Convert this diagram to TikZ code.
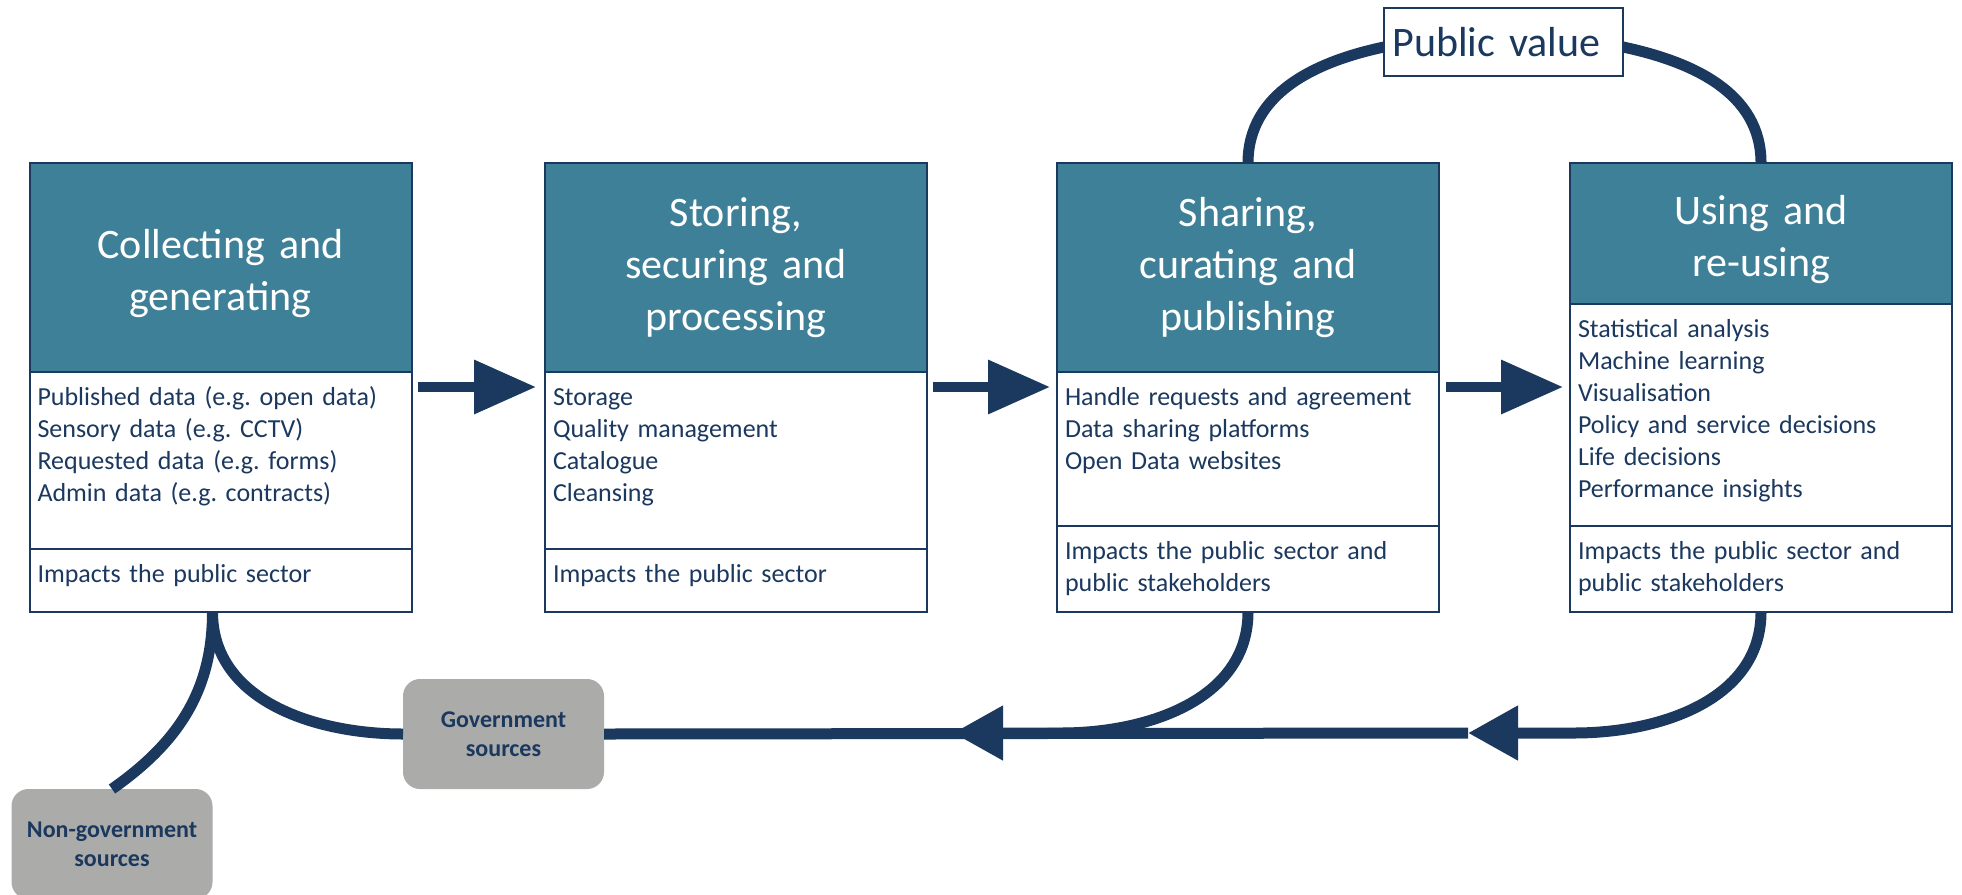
\documentclass[tikz,border=0pt]{standalone}
\usepackage{fontspec}
\setmainfont{Carlito}
\usepackage{xcolor}
\usepackage{tikz}
\usetikzlibrary{positioning,arrows.meta,calc}
\frenchspacing

\definecolor{navy}{RGB}{27,56,94}
\definecolor{headteal}{RGB}{62,128,151}
\definecolor{srcgray}{RGB}{171,171,170}

\begin{document}
\begin{tikzpicture}[x=0.5pt, y=-0.5pt,
    head/.style={draw=navy, line width=1pt, fill=headteal, text=white, text width=183pt, align=center, minimum width=191pt, minimum height=#1, inner sep=4pt, outer sep=0pt, font=\fontsize{21}{26}\selectfont},
    part/.style={draw=navy, line width=1pt, fill=white, text=navy, text width=183pt, align=left, inner sep=4pt, outer sep=0pt, text height=12.5pt, text depth=#1, font=\fontsize{13}{16}\selectfont},
    source/.style={fill=srcgray, rounded corners=8.5pt, text=navy, minimum width=100.5pt, minimum height=55pt, outer sep=0pt, align=center, font=\bfseries\fontsize{12}{14.5}\selectfont},
    loopline/.style={draw=navy, line width=5.5pt},
    fatarrow/.style={draw=navy, line width=5pt, -{Triangle[length=31pt,width=26pt]}},
    backhead/.style={-{Triangle[length=25pt,width=26pt]}}]
  \useasboundingbox (0,0) rectangle (1962,894);
  \clip (0,0) rectangle (1962,894);

  % the four stages
  \node[head=104.5pt, text depth=24pt, anchor=north] (h1) at (220.5,163) {Collecting and\\generating};
  \node[part=68pt, below=0pt of h1] (b1) {Published data (e.g. open data)\\Sensory data (e.g. CCTV)\\Requested data (e.g. forms)\\Admin data (e.g. contracts)};
  \node[part=11pt, below=0pt of b1] (f1) {Impacts the public sector};

  \node[head=104.5pt, anchor=north] (h2) at (736,163) {Storing,\\securing and\\processing};
  \node[part=68pt, below=0pt of h2] (b2) {Storage\\Quality management\\Catalogue\\Cleansing};
  \node[part=11pt, below=0pt of b2] (f2) {Impacts the public sector};

  \node[head=104.5pt, anchor=north] (h3) at (1248,163) {Sharing,\\curating and\\publishing};
  \node[part=56.5pt, below=0pt of h3] (b3) {Handle requests and agreement\\Data sharing platforms\\Open Data websites};
  \node[part=22.5pt, below=0pt of b3] (f3) {Impacts the public sector and\\public stakeholders};

  \node[head=70.5pt, text depth=24pt, anchor=north] (h4) at (1761,163) {Using and\\re-using};
  \node[part=90.5pt, below=0pt of h4] (b4) {Statistical analysis\\Machine learning\\Visualisation\\Policy and service decisions\\Life decisions\\Performance insights};
  \node[part=22.5pt, below=0pt of b4] (f4) {Impacts the public sector and\\public stakeholders};

  % value and sources
  \node[draw=navy, line width=1pt, fill=white, text=navy, text width=111pt, align=left, inner xsep=4.25pt, minimum height=34pt, outer sep=0pt, font=\fontsize{21}{24}\selectfont] (pv) at (1503.5,42) {Public value};
  \node[source] (gov) at (503.5,734) {Government\\sources};
  \node[source] (ngov) at (112,844) {Non-government\\sources};

  % forward arrows
  \draw[fatarrow] ($(h1.south east)+(6,15)$) -- ($(h2.south west)+(-9,15)$);
  \draw[fatarrow] ($(h2.south east)+(6,15)$) -- ($(h3.south west)+(-7,15)$);
  \draw[fatarrow] ($(h3.south east)+(7,15)$) -- ($(b4.west |- h3.south)+(-7,15)$);

  % public value loop
  \draw[loopline] (h3.north) to[out=90,in=192] ([yshift=-2.5pt]pv.west);
  \draw[loopline] ([yshift=-2.5pt]pv.east) to[out=-12,in=90] (h4.north);

  % return line
  \coordinate (j4) at (1574,733);
  \coordinate (t4) at (1468,733);
  \coordinate (j3) at (1061,733);
  \coordinate (t3) at (953,733);
  \draw[loopline] (t4) -- (gov.east);
  \draw[loopline, backhead] (f4.south) to[out=-90,in=0] (j4) -- (t4);
  \draw[loopline, backhead] (f3.south) to[out=-90,in=0] (j3) -- (t3);
  \draw[loopline] (gov.west) to[out=180,in=-90] ([xshift=-4pt]f1.south);
  \draw[loopline] ([xshift=-4pt]f1.south) to[out=-90,in=35] (ngov.north);
\end{tikzpicture}
\end{document}
